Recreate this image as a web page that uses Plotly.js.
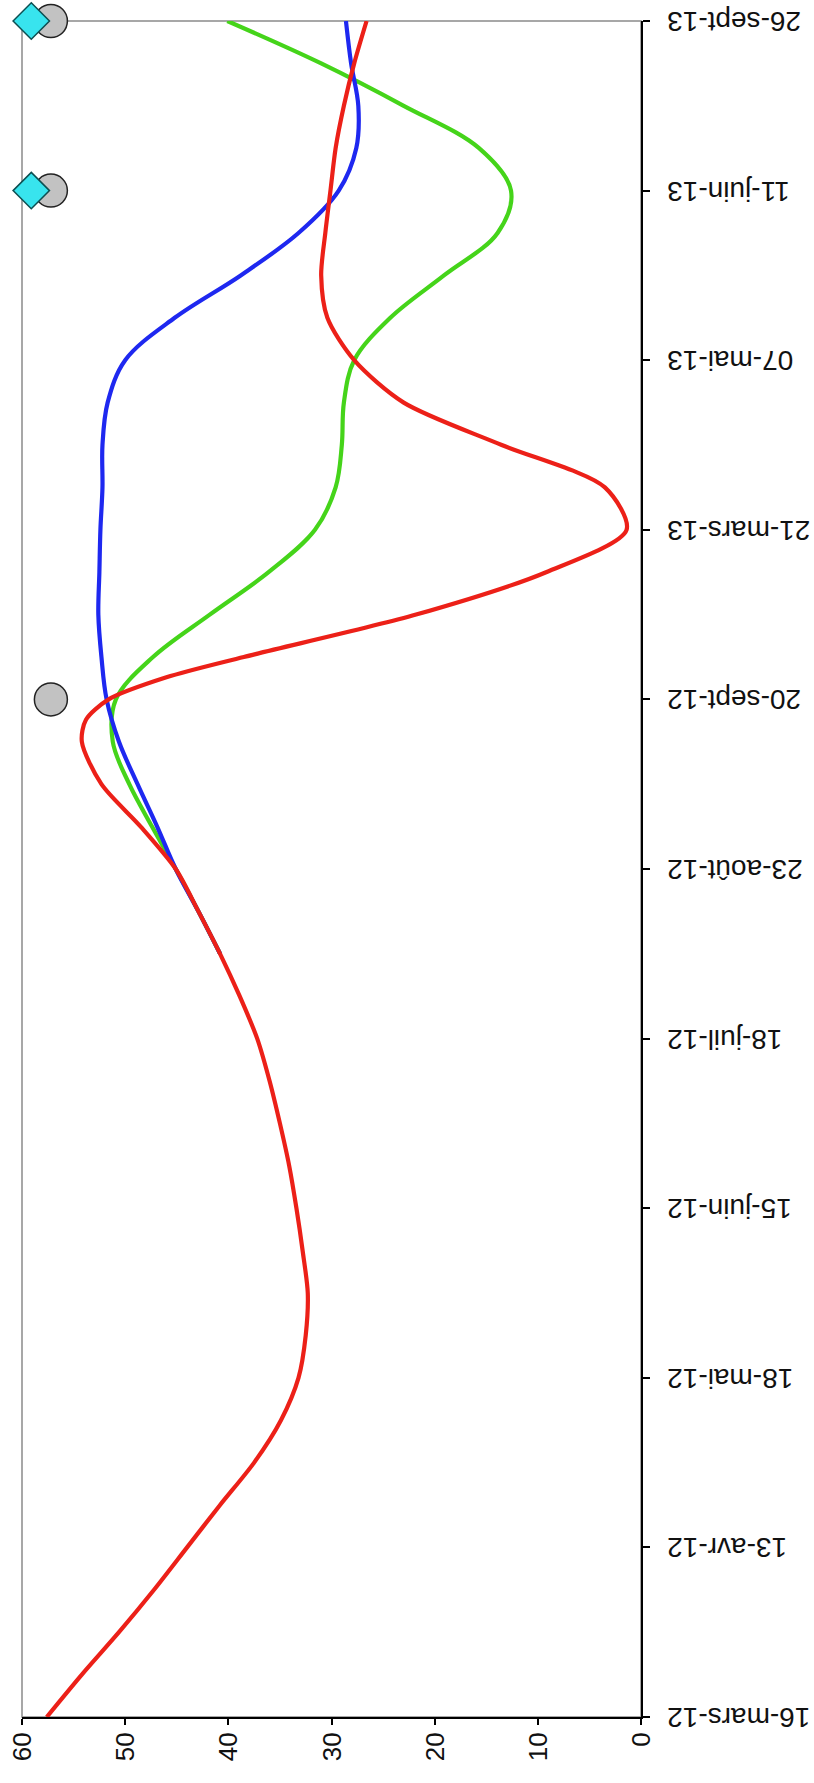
<!DOCTYPE html>
<html>
<head>
<meta charset="utf-8">
<script src="https://cdn.plot.ly/plotly-3.0.1.min.js"></script>
<style>
  html, body { margin: 0; padding: 0; width: 814px; height: 1783px; overflow: hidden; background: #fff; }
  /* the chart is drawn landscape, then turned a quarter turn to the left */
  #chart {
    position: absolute; left: 0; top: 0;
    width: 1783px; height: 814px;
    transform-origin: 0 0;
    transform: translateY(1783px) rotate(-90deg);
  }
</style>
</head>
<body>
<div id="chart"></div>
<script>
// category labels (axis positions 0..10)
const dateLabels = ['16-mars-12', '13-avr-12', '18-mai-12', '15-juin-12', '18-juil-12', '23-août-12',
                    '20-sept-12', '21-mars-13', '07-mai-13', '11-juin-13', '26-sept-13'];
const labelPos = [0, 1, 2, 3, 4, 5, 6, 7, 8, 9, 10];
const valueTicks = [0, 10, 20, 30, 40, 50, 60];

// red series
const redPos = [0, 0.25, 0.5, 0.75, 1, 1.25, 1.5, 1.75, 2, 2.25, 2.5, 2.75, 3, 3.25, 3.5, 3.75, 4, 4.25, 4.5, 4.75, 5,
                5.25, 5.5, 5.75, 5.88, 6, 6.13, 6.25,
                6.5, 6.75, 7, 7.25, 7.5, 7.75, 8, 8.25, 8.5, 8.75, 9, 9.25, 9.5, 9.75, 10];
const redVals = [57.6, 54.2, 50.6, 47.2, 44.0, 40.8, 37.5, 34.9, 33.2, 32.5, 32.3, 32.8, 33.4, 34.1, 35.0, 36.0, 37.2, 38.9, 40.8, 42.9, 45.1,
                 48.5, 52.3, 54.2, 53.8, 51.6, 46.0, 38.5,
                 21.8, 9.2, 1.4, 3.5, 13.5, 23.0, 27.8, 30.4, 31.0, 30.6, 30.1, 29.6, 28.8, 27.8, 26.6];

// blue and green series (they run under the red one before 23-août-12)
const bluePos = [4.5, 4.75, 5, 5.25, 5.5, 5.75, 6, 6.25, 6.5, 6.75, 7, 7.25, 7.5, 7.75, 8, 8.25, 8.5, 8.75, 9, 9.25, 9.5, 9.75, 10];
const blueVals = [40.8, 42.9, 45.1, 46.9, 48.8, 50.6, 51.8, 52.3, 52.6, 52.5, 52.4, 52.2, 52.2, 51.7, 50.0, 45.2, 38.8, 33.2, 29.3, 27.6, 27.4, 28.1, 28.6];
const greenPos = [4.5, 4.75, 5, 5.25, 5.5, 5.75, 6, 6.25, 6.5, 6.75, 7, 7.25, 7.5, 7.75, 8, 8.25, 8.5, 8.75, 9, 9.25, 9.5, 9.75, 10];
const greenVals = [40.8, 42.9, 45.1, 47.4, 49.6, 51.2, 50.9, 47.3, 41.8, 36.1, 31.6, 29.6, 29.0, 28.8, 27.8, 24.3, 19.1, 13.9, 12.6, 15.7, 23.0, 31.0, 40.1];

// markers
const circlePos = [6, 9, 10];
const circleVals = [57.2, 57.2, 57.2];
const diamondPos = [9, 10];
const diamondVals = [59.1, 59.1];

const fontFam = 'Liberation Sans, Arial, sans-serif';

function lineTrace(x, y, color, smoothing) {
    return {
        x: x, y: y,
        type: 'scatter', mode: 'lines',
        line: { color: color, width: 4.2, shape: 'spline', smoothing: smoothing },
        hoverinfo: 'skip'
    };
}

const traces = [
    lineTrace(greenPos, greenVals, '#45d41a', 1),
    lineTrace(bluePos, blueVals, '#1e28f0', 1),
    lineTrace(redPos, redVals, '#ec2018', 0.8),
    {
        x: circlePos, y: circleVals, type: 'scatter', mode: 'markers', cliponaxis: false,
        marker: { symbol: 'circle', size: 33, color: '#c2c2c2', line: { color: '#222', width: 1.5 } }
    },
    {
        x: diamondPos, y: diamondVals, type: 'scatter', mode: 'markers', cliponaxis: false,
        marker: { symbol: 'diamond', size: 28, color: '#38e4ee', line: { color: '#0d4f52', width: 1.5 } }
    }
];

const layout = {
    width: 1783,
    height: 814,
    margin: { l: 66, r: 21, t: 22, b: 173, pad: 0 },
    paper_bgcolor: '#fff',
    plot_bgcolor: '#fff',
    showlegend: false,
    font: { family: fontFam, size: 28, color: '#000' },
    xaxis: {
        range: [0, 10],
        tickmode: 'array', tickvals: labelPos, ticktext: dateLabels,
        tickangle: -90,
        ticks: 'outside', ticklen: 7, tickwidth: 2, tickcolor: '#000',
        ticklabelstandoff: 6,
        showline: true, linecolor: '#000', linewidth: 2,
        showgrid: false, zeroline: false,
        tickfont: { family: fontFam, size: 28, color: '#111' }
    },
    // second copies of the axes give the ticks that cross the line
    xaxis2: {
        overlaying: 'x', anchor: 'y', range: [0, 10],
        tickmode: 'array', tickvals: labelPos,
        ticks: 'inside', ticklen: 7, tickwidth: 2, tickcolor: '#000',
        showticklabels: false, showline: false, showgrid: false, zeroline: false
    },
    yaxis: {
        range: [0, 60],
        tickmode: 'array', tickvals: valueTicks,
        ticks: 'outside', ticklen: 6, tickwidth: 2, tickcolor: '#000',
        ticklabelstandoff: 2,
        showline: true, linecolor: '#000', linewidth: 2,
        showgrid: false, zeroline: false,
        tickfont: { family: fontFam, size: 26, color: '#111' }
    },
    yaxis2: {
        overlaying: 'y', anchor: 'x', range: [0, 60],
        tickmode: 'array', tickvals: valueTicks,
        ticks: 'inside', ticklen: 6, tickwidth: 2, tickcolor: '#000',
        showticklabels: false, showline: false, showgrid: false, zeroline: false
    },
    shapes: [{
        type: 'rect', xref: 'paper', yref: 'paper', x0: 0, x1: 1, y0: 0, y1: 1,
        line: { color: '#8a8a8a', width: 1.5 }, layer: 'below'
    }]
};

Plotly.newPlot('chart', traces, layout, { displayModeBar: false, staticPlot: true });
</script>
</body>
</html>
